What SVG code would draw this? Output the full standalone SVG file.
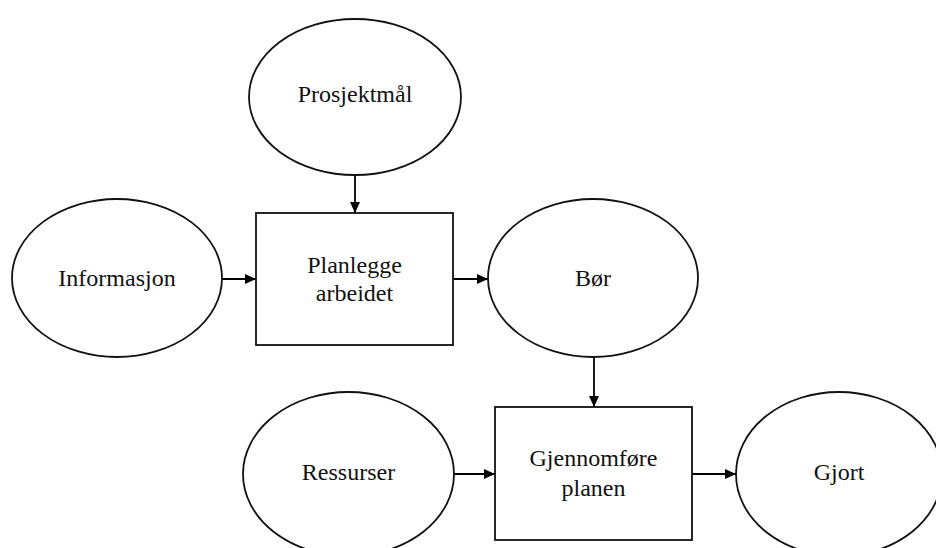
<svg xmlns="http://www.w3.org/2000/svg" width="936" height="548" viewBox="0 0 936 548">
  <defs>
    <marker id="arrow" markerWidth="11" markerHeight="10" refX="11" refY="5" orient="auto" markerUnits="userSpaceOnUse">
      <path d="M0,0 L11,5 L0,10 Z" fill="#000"/>
    </marker>
    <style>
      .shape { fill: #fff; stroke: #111; stroke-width: 1.8; }
      .label { font-family: "Liberation Serif", "Times New Roman", serif; font-size: 24px; fill: #111; text-anchor: middle; }
      .edge { stroke: #000; stroke-width: 1.8; fill: none; marker-end: url(#arrow); }
    </style>
  </defs>
  <rect width="936" height="548" fill="#fff"/>

  <g id="connectors">
    <line class="edge" x1="355" y1="175" x2="355" y2="213"/>
    <line class="edge" x1="222" y1="279" x2="256" y2="279"/>
    <line class="edge" x1="453" y1="279" x2="488" y2="279"/>
    <line class="edge" x1="594" y1="357" x2="594" y2="407"/>
    <line class="edge" x1="454" y1="474" x2="495" y2="474"/>
    <line class="edge" x1="692" y1="474" x2="736" y2="474"/>
  </g>

  <g id="prosjektmal">
    <ellipse class="shape" cx="355" cy="97" rx="106" ry="78"/>
    <text class="label" x="355" y="102">Prosjektmål</text>
  </g>

  <g id="informasjon">
    <ellipse class="shape" cx="117" cy="278" rx="105" ry="79"/>
    <text class="label" x="117" y="286">Informasjon</text>
  </g>

  <g id="planlegge">
    <rect class="shape" x="256" y="213" width="197" height="132"/>
    <text class="label" x="354.5" y="273">Planlegge</text>
    <text class="label" x="354.5" y="301">arbeidet</text>
  </g>

  <g id="bor">
    <ellipse class="shape" cx="593" cy="278" rx="105" ry="79"/>
    <text class="label" x="593" y="286">Bør</text>
  </g>

  <g id="ressurser">
    <ellipse class="shape" cx="348.5" cy="474" rx="105.5" ry="82"/>
    <text class="label" x="348.5" y="480">Ressurser</text>
  </g>

  <g id="gjennomfore">
    <rect class="shape" x="495" y="407" width="197" height="133"/>
    <text class="label" x="593.5" y="466">Gjennomføre</text>
    <text class="label" x="593.5" y="496">planen</text>
  </g>

  <g id="gjort">
    <ellipse class="shape" cx="839" cy="474" rx="103" ry="82"/>
    <text class="label" x="839" y="480">Gjort</text>
  </g>
</svg>
